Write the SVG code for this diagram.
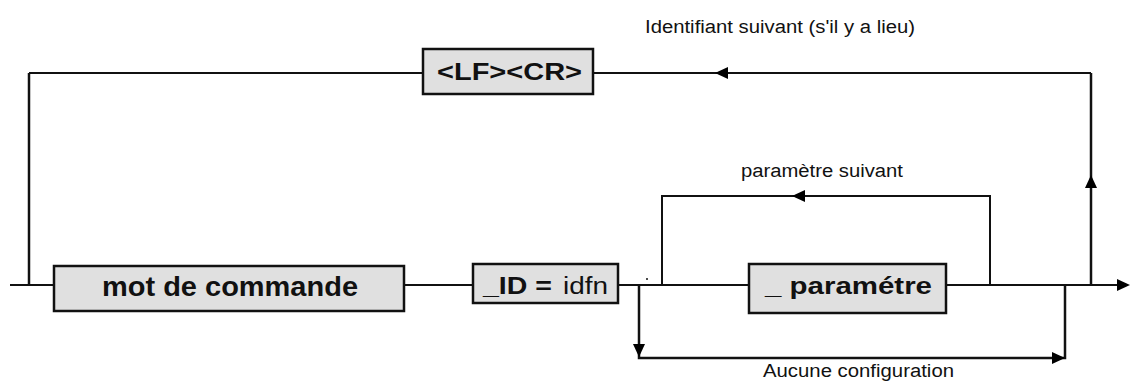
<svg xmlns="http://www.w3.org/2000/svg" width="1131" height="385" viewBox="0 0 1131 385">
  <style>
    .box { fill: #e0e0e0; stroke: #111; stroke-width: 2.5; }
    .wire { fill: none; stroke: #111; stroke-width: 2; }
    .thick { fill: none; stroke: #111; stroke-width: 2.5; }
    .head { fill: #000; }
    .lbl { font-family: "Liberation Sans", Arial, sans-serif; font-size: 18px; fill: #111; }
    .key { font-family: "Liberation Sans", Arial, sans-serif; font-weight: bold; fill: #111; }
    .val { font-family: "Liberation Sans", Arial, sans-serif; fill: #111; }
  </style>
  <defs>
    <!-- arrowhead with its tip at the origin, pointing along +x -->
    <path id="ah" class="head" d="M0,0 L-13,-6 L-13,6 Z"/>
  </defs>

  <g id="connectors">
    <!-- main track -->
    <path class="wire" d="M10,285 H54 M404,285 H473 M618,285 H749 M946,285 H1120"/>
    <!-- return path through <LF><CR> -->
    <path class="thick" d="M29,285 V73"/>
    <path class="wire" d="M29,73 H423 M593,73 H1091"/>
    <path class="thick" d="M1091,285 V73"/>
    <!-- repeat loop for parameters -->
    <path class="wire" d="M662,285 V196 H990 V285"/>
    <!-- bypass when no configuration -->
    <path class="thick" d="M639,285 V358 H1065 V285"/>
    <circle cx="647" cy="279" r="1" fill="#111"/>

    <use href="#ah" transform="translate(1130,285)"/>
    <use href="#ah" transform="translate(1091,175) rotate(-90)"/>
    <use href="#ah" transform="translate(715,73) rotate(180)"/>
    <use href="#ah" transform="translate(792,196) rotate(180)"/>
    <use href="#ah" transform="translate(639,357) rotate(90)"/>
    <use href="#ah" transform="translate(1065,358)"/>

    <text class="lbl" x="645" y="33" textLength="270" lengthAdjust="spacingAndGlyphs">Identifiant suivant (s'il y a lieu)</text>
    <text class="lbl" x="741" y="177" textLength="162" lengthAdjust="spacingAndGlyphs">paramètre suivant</text>
    <text class="lbl" x="763" y="377" textLength="191" lengthAdjust="spacingAndGlyphs">Aucune configuration</text>
  </g>

  <g id="node-lfcr">
    <rect class="box" x="423" y="49" width="170" height="45"/>
    <text class="key" x="437" y="80" font-size="24" textLength="145" lengthAdjust="spacingAndGlyphs">&lt;LF&gt;&lt;CR&gt;</text>
  </g>

  <g id="node-mot">
    <rect class="box" x="54" y="266" width="350" height="45"/>
    <text class="key" x="102" y="296" font-size="27" textLength="256" lengthAdjust="spacingAndGlyphs">mot de commande</text>
  </g>

  <g id="node-id">
    <rect class="box" x="473" y="264" width="145" height="39"/>
    <text class="key" x="483" y="294" font-size="23" textLength="69" lengthAdjust="spacingAndGlyphs">_ID =</text>
    <text class="val" x="563" y="294" font-size="23" textLength="45" lengthAdjust="spacingAndGlyphs">idfn</text>
  </g>

  <g id="node-param">
    <rect class="box" x="749" y="264" width="197" height="49"/>
    <text class="key" x="765" y="294" font-size="24" textLength="167" lengthAdjust="spacingAndGlyphs">_ paramétre</text>
  </g>
</svg>
